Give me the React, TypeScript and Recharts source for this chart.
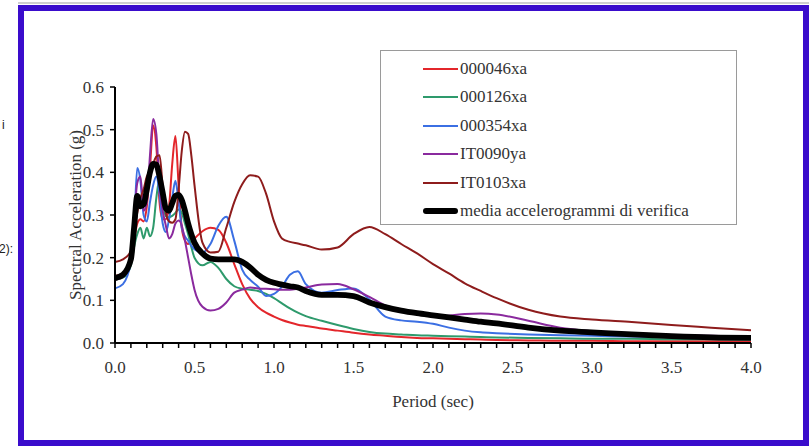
import React from 'react';
import { LineChart, Line, XAxis, YAxis } from 'recharts';

const PERIODS = [0, 0.05, 0.1, 0.12, 0.14, 0.16, 0.18, 0.2, 0.22, 0.24, 0.26, 0.28, 0.3, 0.32, 0.34, 0.36, 0.38, 0.4, 0.42, 0.44, 0.46, 0.48, 0.5, 0.55, 0.6, 0.65, 0.7, 0.75, 0.8, 0.85, 0.9, 0.95, 1.0, 1.05, 1.1, 1.15, 1.2, 1.3, 1.4, 1.5, 1.6, 1.7, 1.8, 1.9, 2.0, 2.1, 2.2, 2.3, 2.4, 2.6, 2.8, 3.0, 3.25, 3.5, 3.75, 4.0];

const V_000046XA = [0.157, 0.163, 0.19, 0.24, 0.28, 0.29, 0.285, 0.32, 0.41, 0.51, 0.46, 0.33, 0.29, 0.29, 0.32, 0.42, 0.485, 0.37, 0.27, 0.24, 0.232, 0.238, 0.245, 0.262, 0.27, 0.265, 0.235, 0.185, 0.138, 0.104, 0.084, 0.071, 0.062, 0.054, 0.048, 0.043, 0.04, 0.034, 0.029, 0.024, 0.02, 0.017, 0.014, 0.012, 0.011, 0.01, 0.009, 0.008, 0.007, 0.006, 0.005, 0.005, 0.004, 0.004, 0.004, 0.003];

const V_000126XA = [0.148, 0.153, 0.182, 0.225, 0.255, 0.27, 0.245, 0.27, 0.25, 0.27, 0.34, 0.385, 0.33, 0.297, 0.295, 0.298, 0.305, 0.313, 0.305, 0.28, 0.255, 0.225, 0.2, 0.182, 0.19, 0.176, 0.15, 0.133, 0.127, 0.125, 0.122, 0.115, 0.105, 0.093, 0.081, 0.071, 0.063, 0.052, 0.042, 0.033, 0.026, 0.022, 0.02, 0.018, 0.017, 0.016, 0.015, 0.014, 0.013, 0.012, 0.011, 0.01, 0.01, 0.009, 0.009, 0.008];

const V_000354XA = [0.128, 0.138, 0.19, 0.27, 0.41, 0.38, 0.3, 0.285, 0.33, 0.37, 0.39, 0.35, 0.28, 0.26, 0.29, 0.34, 0.38, 0.33, 0.27, 0.25, 0.24, 0.228, 0.22, 0.212, 0.232, 0.275, 0.296, 0.24, 0.172, 0.148, 0.132, 0.11, 0.115, 0.132, 0.16, 0.168, 0.138, 0.118, 0.124, 0.128, 0.102, 0.062, 0.053, 0.05, 0.045, 0.036, 0.029, 0.025, 0.023, 0.02, 0.018, 0.017, 0.015, 0.014, 0.013, 0.012];

const V_IT0090YA = [0.148, 0.155, 0.2, 0.29, 0.375, 0.39, 0.31, 0.33, 0.44, 0.525, 0.49, 0.37, 0.31, 0.275, 0.245, 0.255, 0.28, 0.287, 0.275, 0.24, 0.2, 0.16, 0.125, 0.085, 0.076, 0.08, 0.095, 0.118, 0.125, 0.13, 0.128, 0.127, 0.126, 0.125, 0.125, 0.127, 0.13, 0.137, 0.138, 0.126, 0.108, 0.088, 0.076, 0.068, 0.063, 0.064, 0.068, 0.069, 0.067, 0.052, 0.036, 0.028, 0.023, 0.019, 0.017, 0.015];

const V_IT0103XA = [0.19, 0.196, 0.215, 0.265, 0.305, 0.34, 0.36, 0.39, 0.402, 0.42, 0.437, 0.44, 0.367, 0.305, 0.285, 0.282, 0.29, 0.36, 0.45, 0.495, 0.49, 0.44, 0.37, 0.235, 0.212, 0.214, 0.27, 0.33, 0.372, 0.393, 0.39, 0.35, 0.285, 0.245, 0.237, 0.233, 0.229, 0.219, 0.224, 0.255, 0.272, 0.255, 0.232, 0.21, 0.185, 0.163, 0.14, 0.122, 0.105, 0.078, 0.062, 0.055, 0.049, 0.042, 0.036, 0.03];

const V_MEDIA = [0.152, 0.16, 0.196, 0.27, 0.345, 0.32, 0.325, 0.36, 0.4, 0.42, 0.418, 0.39, 0.352, 0.315, 0.31, 0.328, 0.345, 0.347, 0.335, 0.31, 0.28, 0.255, 0.235, 0.21, 0.198, 0.196, 0.196, 0.196, 0.19, 0.177, 0.16, 0.148, 0.141, 0.137, 0.133, 0.13, 0.122, 0.113, 0.113, 0.11, 0.095, 0.084, 0.076, 0.07, 0.065, 0.06, 0.055, 0.05, 0.046, 0.036, 0.029, 0.025, 0.02, 0.016, 0.013, 0.012];

const SERIES = [
  { key: 's1', name: '000046xa', color: '#e3262b', width: 2, values: V_000046XA },
  { key: 's2', name: '000126xa', color: '#2e9a6c', width: 2, values: V_000126XA },
  { key: 's3', name: '000354xa', color: '#3b6fe3', width: 2, values: V_000354XA },
  { key: 's4', name: 'IT0090ya', color: '#8a2a9e', width: 2, values: V_IT0090YA },
  { key: 's5', name: 'IT0103xa', color: '#8e1c1c', width: 2, values: V_IT0103XA },
  { key: 's6', name: 'media accelerogrammi di verifica', color: '#000000', width: 5.8, values: V_MEDIA },
];

const Y_TICKS = [0, 0.1, 0.2, 0.3, 0.4, 0.5, 0.6];
const X_LABELS = [0, 0.5, 1, 1.5, 2, 2.5, 3, 3.5, 4];
const X_TICKS = Array.from({ length: 41 }, (_, i) => i / 10);

const X_TITLE = 'Period (sec)';
const Y_TITLE = 'Spectral Acceleration (g)';

const data = PERIODS.map((t, i) => {
  const row: Record<string, number> = { t };
  SERIES.forEach((s) => {
    row[s.key] = s.values[i];
  });
  return row;
});

const FONT = "'Liberation Serif', 'Times New Roman', serif";

const fmtX = (v: number) => {
  const hit = X_LABELS.find((l) => Math.abs(l - v) < 1e-6);
  return hit === undefined ? '' : hit.toFixed(1);
};

export default function App() {
  return (
    <div style={{ position: 'absolute', left: 0, top: 0, width: 809, height: 446, background: '#fff', overflow: 'hidden', fontFamily: FONT }}>
      <div style={{ position: 'absolute', left: 18, top: 2, width: 791, height: 2, background: '#cfcfcf' }} />
      <div style={{ position: 'absolute', left: 18, top: 5, width: 791, height: 441, border: '6px solid #3a0ccc', boxSizing: 'border-box', background: '#fff' }} />
      <div style={{ position: 'absolute', left: 2, top: 118, fontFamily: "'Liberation Sans', Arial, sans-serif", fontSize: 12, color: '#222' }}>i</div>
      <div style={{ position: 'absolute', left: -1, top: 242, fontFamily: "'Liberation Sans', Arial, sans-serif", fontSize: 12, color: '#222' }}>2):</div>
      <div style={{ position: 'absolute', left: 0, top: 0 }}>
        <LineChart width={809} height={446} data={data} margin={{ top: 87, right: 58, bottom: 37, left: 55 }}>
          <XAxis
            dataKey="t"
            type="number"
            domain={[0, 4]}
            ticks={X_TICKS}
            interval={0}
            tickFormatter={fmtX}
            height={66}
            tickSize={5}
            tickMargin={13}
            axisLine={{ stroke: '#000', strokeWidth: 2 }}
            tickLine={{ stroke: '#000', strokeWidth: 1.5 }}
            tick={{ fontSize: 17, fill: '#333', fontFamily: FONT }}
            label={{ value: X_TITLE, position: 'insideBottom', offset: 2, style: { fontSize: 17, fill: '#333', fontFamily: FONT } }}
          />
          <XAxis xAxisId="top" orientation="top" type="number" domain={[0, 4]} height={0} tick={false} tickLine={false} axisLine={{ stroke: '#000', strokeWidth: 2 }} />
          <YAxis
            type="number"
            domain={[0, 0.6]}
            ticks={Y_TICKS}
            interval={0}
            tickFormatter={(v: number) => v.toFixed(1)}
            width={60}
            tickSize={5}
            tickMargin={6}
            axisLine={{ stroke: '#000', strokeWidth: 2 }}
            tickLine={{ stroke: '#000', strokeWidth: 1.5 }}
            tick={{ fontSize: 17, fill: '#333', fontFamily: FONT }}
            label={{ value: Y_TITLE, angle: -90, position: 'insideLeft', offset: 20, style: { textAnchor: 'middle', fontSize: 17, fill: '#333', fontFamily: FONT } }}
          />
          <YAxis yAxisId="right" orientation="right" type="number" domain={[0, 0.6]} width={0} tick={false} tickLine={false} axisLine={{ stroke: '#000', strokeWidth: 2 }} />
          {SERIES.map((s) => (
            <Line
              key={s.key}
              type="monotone"
              dataKey={s.key}
              name={s.name}
              stroke={s.color}
              strokeWidth={s.width}
              strokeLinejoin="round"
              dot={false}
              activeDot={false}
              isAnimationActive={false}
            />
          ))}
        </LineChart>
      </div>
      <div style={{ position: 'absolute', left: 380, top: 50, width: 357, height: 175, border: '1.5px solid #9a9a9a', boxSizing: 'border-box', background: '#fff' }}>
        {SERIES.map((s, i) => (
          <div key={s.key} style={{ position: 'absolute', left: 0, top: 4 + i * 28.4, height: 28, display: 'flex', alignItems: 'center', whiteSpace: 'nowrap' }}>
            <div style={{ marginLeft: 42, width: 35, height: s.width === 2 ? 2 : 6, background: s.color, borderRadius: s.width === 2 ? 0 : 3 }} />
            <span style={{ marginLeft: 2, fontSize: 17, color: '#333', fontFamily: FONT }}>{s.name}</span>
          </div>
        ))}
      </div>
    </div>
  );
}
